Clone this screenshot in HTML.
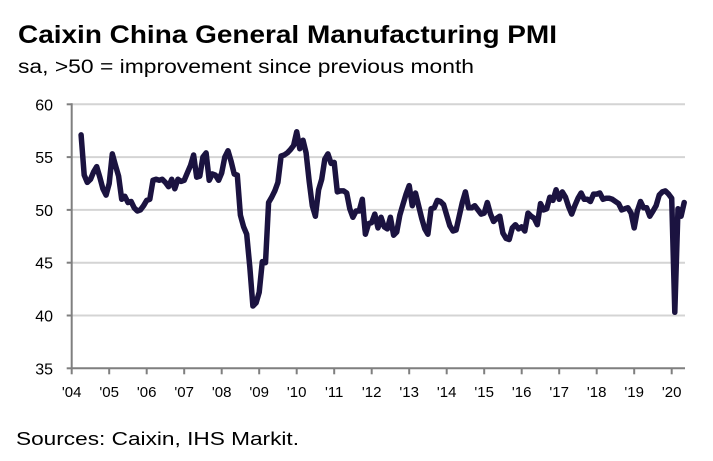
<!DOCTYPE html>
<html><head><meta charset="utf-8"><style>
html,body{margin:0;padding:0;background:#fff;}
svg{display:block;font-family:"Liberation Sans",sans-serif;}
</style></head><body>
<svg id="chart" width="713" height="461" viewBox="0 0 713 461">
<text x="18" y="43" font-size="25" font-weight="bold" fill="#000" textLength="539" lengthAdjust="spacingAndGlyphs">Caixin China General Manufacturing PMI</text>
<text x="18" y="73" font-size="19" fill="#000" textLength="456" lengthAdjust="spacingAndGlyphs">sa, &gt;50 = improvement since previous month</text>
<g id="grid"></g><g id="axes"></g><g id="series"></g>
<text x="16" y="445" font-size="18" fill="#000" textLength="283" lengthAdjust="spacingAndGlyphs">Sources: Caixin, IHS Markit.</text>
</svg>
<script>
const yTicks = [35, 40, 45, 50, 55, 60];
const yearLabels = ["'04","'05","'06","'07","'08","'09","'10","'11","'12","'13","'14","'15","'16","'17","'18","'19","'20"];
const startYear = 2004, startMonth = 3; // April 2004 (0-based month)
const pmi2004 = [57.1,53.3,52.6,52.9,53.6,54.1,53.1,52.0,51.4];
const pmi2005 = [52.5,55.3,54.2,53.2,51.0,51.3,50.7,50.8,50.2,49.9,50.0,50.4];
const pmi2006 = [50.9,51.0,52.8,52.9,52.8,52.9,52.6,52.2,52.9,52.0,52.9,52.7];
const pmi2007 = [52.8,53.5,54.2,55.2,53.1,53.2,55.0,55.4,52.8,53.4,53.3,52.8];
const pmi2008 = [53.5,55.0,55.6,54.6,53.4,53.3,49.5,48.4,47.7,44.6,40.9,41.2];
const pmi2009 = [42.2,45.1,45.0,50.7,51.2,51.8,52.6,55.1,55.2,55.4,55.7,56.1];
const pmi2010 = [57.4,55.8,56.6,55.4,52.7,50.4,49.4,51.9,52.9,54.8,55.3,54.4];
const pmi2011 = [54.5,51.7,51.8,51.8,51.6,50.1,49.3,49.9,49.9,51.0,47.7,48.7];
const pmi2012 = [48.8,49.6,48.3,49.3,48.4,48.2,49.3,47.6,47.9,49.5,50.5,51.5];
const pmi2013 = [52.3,50.4,51.6,50.4,49.2,48.2,47.7,50.1,50.2,50.9,50.8,50.5];
const pmi2014 = [49.5,48.5,48.0,48.1,49.4,50.7,51.7,50.2,50.2,50.4,50.0,49.6];
const pmi2015 = [49.7,50.7,49.6,48.9,49.2,49.4,47.8,47.3,47.2,48.3,48.6,48.2];
const pmi2016 = [48.4,48.0,49.7,49.4,49.2,48.6,50.6,50.0,50.1,51.2,50.9,51.9];
const pmi2017 = [51.0,51.7,51.2,50.3,49.6,50.4,51.1,51.6,51.0,51.0,50.8,51.5];
const pmi2018 = [51.5,51.6,51.0,51.1,51.1,51.0,50.8,50.6,50.0,50.1,50.2,49.7];
const pmi2019 = [48.3,49.9,50.8,50.2,50.2,49.4,49.9,50.4,51.4,51.7,51.8,51.5];
const pmi2020 = [51.1,40.3,50.1,49.4,50.7];
const pmi = [].concat(pmi2004,pmi2005,pmi2006,pmi2007,pmi2008,pmi2009,pmi2010,pmi2011,pmi2012,pmi2013,pmi2014,pmi2015,pmi2016,pmi2017,pmi2018,pmi2019,pmi2020);

const NS = "http://www.w3.org/2000/svg";
const x0 = 71.7, pxPerYear = 37.5, plotRight = 685;
function xYear(t){ return x0 + (t - startYear) * pxPerYear; }
function xMonth(i){ return xYear(startYear + (startMonth + i) / 12); }
function yScale(v){ return 368.3 - (v - 35) * (264 / 25); }
function mk(tag, attrs){ const e = document.createElementNS(NS, tag); for (const k in attrs) e.setAttribute(k, attrs[k]); return e; }

const grid = document.getElementById('grid');
const axes = document.getElementById('axes');
yTicks.forEach(v => {
  const y = yScale(v);
  if (v > 35) {
    const l = mk('line', {x1: x0, x2: plotRight, y1: y, y2: y, stroke: '#d4d4d4', 'stroke-width': 2});
    
    
    grid.appendChild(l);
  }
  const tk = mk('line', {x1: x0 - 5, x2: x0, y1: y, y2: y, stroke: '#7f7f7f', 'stroke-width': 2});
  
  
  axes.appendChild(tk);
  const t = mk('text', {x: 53, y: y + 6, 'font-size': 16, 'text-anchor': 'end', fill: '#000'});
  t.textContent = v;
  
  
  axes.appendChild(t);
});
const ya = mk('line', {x1: x0, x2: x0, y1: yScale(60) - 1, y2: yScale(35), stroke: '#7f7f7f', 'stroke-width': 2});


axes.appendChild(ya);
const xa = mk('line', {x1: x0, x2: plotRight, y1: yScale(35), y2: yScale(35), stroke: '#7f7f7f', 'stroke-width': 2});


axes.appendChild(xa);
yearLabels.forEach((lab, i) => {
  const x = xYear(startYear + i);
  const tk = mk('line', {x1: x, x2: x, y1: yScale(35), y2: yScale(35) + 6, stroke: '#7f7f7f', 'stroke-width': 2});
  
  
  axes.appendChild(tk);
  const t = mk('text', {x: x, y: 397, 'font-size': 15, 'text-anchor': 'middle', fill: '#000'});
  t.textContent = lab;
  
  
  axes.appendChild(t);
});
const d = pmi.map((v, i) => (i ? 'L' : 'M') + xMonth(i).toFixed(1) + ',' + yScale(v).toFixed(1)).join(' ');
const p = mk('path', {d: d, fill: 'none', stroke: '#1b1340', 'stroke-width': 5.5, 'stroke-linejoin': 'round', 'stroke-linecap': 'round'});


document.getElementById('series').appendChild(p);
</script>
</body></html>
